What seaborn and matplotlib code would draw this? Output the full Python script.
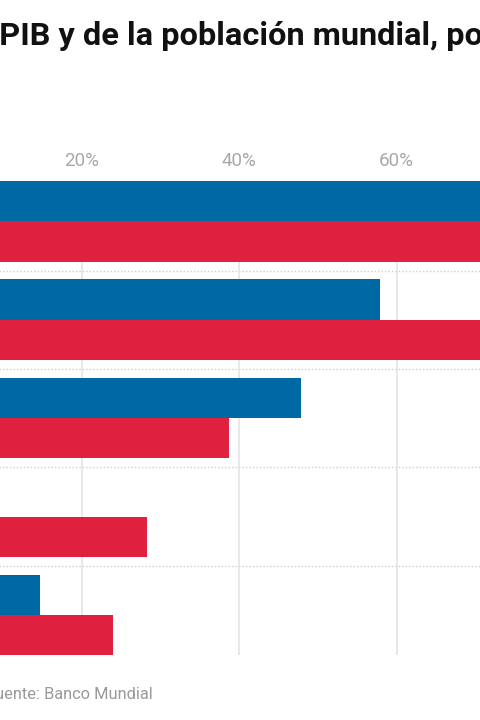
import matplotlib.pyplot as plt
import seaborn as sns
import pandas as pd

# values in % (parts beyond the visible crop are estimates)
categories = ["G20", "Economías emergentes", "Asia oriental y Pacífico", "África subsahariana", "Países de ingreso bajo"]
series = ["PIB", "Población"]
pib = [82.0, 57.9, 47.9, 4.0, 14.7]
poblacion = [76.0, 85.0, 38.7, 28.3, 24.0]
ticks = [20, 40, 60]
tick_labels = [f"{t}%" for t in ticks]
colors = ["#0069a3", "#df213f"]

df = pd.DataFrame({
    "categoria": categories * 2,
    "serie": [series[0]] * len(categories) + [series[1]] * len(categories),
    "valor": pib + poblacion,
})

sns.set_theme(style="white")
plt.rcParams["font.family"] = ["Roboto", "DejaVu Sans"]

fig = plt.figure(figsize=(4.8, 7.2), dpi=100)
# the picture is a crop of a wider chart: the axes start left of the figure
ax = fig.add_axes([-75.8 / 480, 64.7 / 720, 787.5 / 480, 474.3 / 720])

sns.barplot(data=df, x="valor", y="categoria", hue="serie", order=categories,
            hue_order=series, palette=colors, orient="h", width=0.82, gap=0,
            saturation=1, linewidth=0, legend=False, ax=ax)

ax.set_xlim(0, 100)
ax.set_ylim(len(categories) - 0.59, -0.41)
ax.xaxis.tick_top()
ax.set_xticks(ticks)
ax.set_xticklabels(tick_labels)
ax.tick_params(axis="x", length=0, pad=8, labelsize=13.5, labelcolor="#a8a8a8")
ax.tick_params(axis="y", length=0)
ax.set_yticklabels([])
ax.grid(axis="x", color="#e4e4e4", linewidth=1.2)
ax.set_axisbelow(True)
for i in range(len(categories) - 1):
    ax.axhline(i + 0.5, color="#cfcfcf", linewidth=1, linestyle=(0, (1, 1.5)), zorder=0.5)
for s in ax.spines.values():
    s.set_visible(False)
ax.set_xlabel("")
ax.set_ylabel("")

fig.text(-0.459, 1 - 45 / 720, "Porcentaje del PIB y de la población mundial, por nivel de ingreso",
         fontsize=23.4, fontweight="bold", color="#111111", va="baseline")
fig.text(-14.5 / 480, 1 - 699.3 / 720, "Fuente: Banco Mundial",
         fontsize=11.8, color="#999999", va="baseline")

fig.savefig("out.png", dpi=100)
